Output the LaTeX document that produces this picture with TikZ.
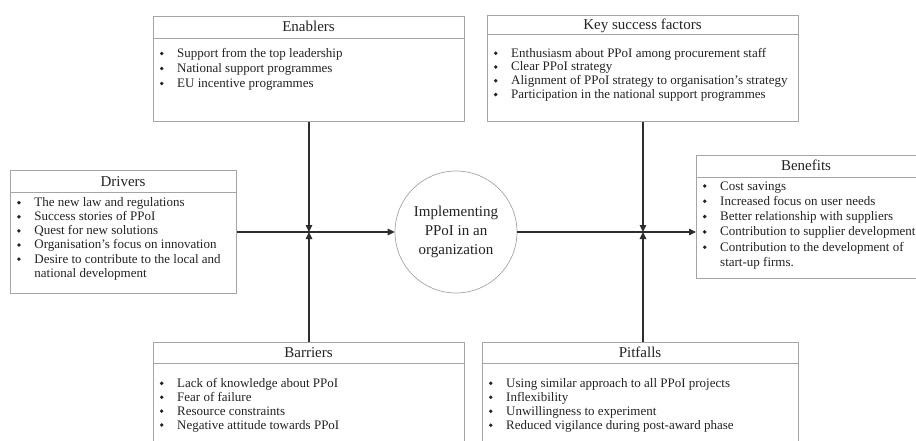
\documentclass[tikz,border=0pt]{standalone}
\usepackage{fontspec}
\setmainfont{Liberation Serif}
\usetikzlibrary{arrows.meta}
\definecolor{boxgray}{RGB}{165,165,165}
\definecolor{linec}{RGB}{45,45,45}
\definecolor{textc}{RGB}{35,35,35}
\newcommand{\bul}{\raisebox{2.1pt}{\tikz\fill[textc] (0pt,0pt) circle[radius=1.9pt];}}
\newcommand{\blist}[2]{\fontsize{13}{#1}\selectfont\begin{tabular}[t]{@{}l@{\hspace{13.6pt}}l@{}}#2\end{tabular}}
\tikzset{
  box/.style={draw=boxgray, line width=0.9pt, rectangle, inner sep=0pt, anchor=north west},
  boxline/.style={draw=boxgray, line width=0.9pt},
  head/.style={anchor=base, inner sep=0pt, text=textc, font=\fontsize{15}{17}\selectfont},
  blst/.style={anchor=base west, inner sep=0pt, text=textc},
  circ/.style={circle, draw=boxgray, line width=0.7pt, minimum size=122pt, inner sep=0pt, align=center, text=textc, font=\fontsize{15}{18.7}\selectfont},
  conn/.style={draw=linec, line width=1.2pt, -{Triangle[length=7pt,width=6.5pt]}}
}
\begin{document}
\begin{tikzpicture}[x=1pt,y=-1pt]
\useasboundingbox[fill=white] (0,0) rectangle (916,441);
% Enablers
\node[box, minimum width=311pt, minimum height=105pt] (en) at (153,16) {};
\draw[boxline] ([yshift=-22pt]en.north west) -- ([yshift=-22pt]en.north east);
\node[head] (enh) at (308.5,32) {Enablers};
\node[blst] (enl) at (159.6,57.5) {\blist{15}{\bul & Support from the top leadership\\ \bul & National support programmes\\ \bul & EU incentive programmes}};
% Key success factors
\node[box, minimum width=311pt, minimum height=106pt] (ks) at (487,15) {};
\draw[boxline] ([yshift=-19pt]ks.north west) -- ([yshift=-19pt]ks.north east);
\node[head] (ksh) at (642.5,29.7) {Key success factors};
\node[blst] (ksl) at (493.6,57.2) {\blist{13.8}{\bul & Enthusiasm about PPoI among procurement staff\\ \bul & Clear PPoI strategy\\ \bul & Alignment of PPoI strategy to organisation's strategy\\ \bul & Participation in the national support programmes}};
% Drivers
\node[box, minimum width=226pt, minimum height=123pt] (dr) at (10,170) {};
\draw[boxline] ([yshift=-22pt]dr.north west) -- ([yshift=-22pt]dr.north east);
\node[head] (drh) at (123,186.7) {Drivers};
\node[blst] (drl) at (16.8,206.7) {\blist{14.1}{\bul & The new law and regulations\\ \bul & Success stories of PPoI\\ \bul & Quest for new solutions\\ \bul & Organisation's focus on innovation\\ \bul & Desire to contribute to the local and\\ & national development}};
% Benefits
\node[box, minimum width=240pt, minimum height=123pt] (be) at (696,155) {};
\draw[boxline] ([yshift=-22pt]be.north west) -- ([yshift=-22pt]be.north east);
\node[head] (beh) at (806,171) {Benefits};
\node[blst] (bel) at (702.6,190) {\blist{15.3}{\bul & Cost savings\\ \bul & Increased focus on user needs\\ \bul & Better relationship with suppliers\\ \bul & Contribution to supplier development\\ \bul & Contribution to the development of\\ & start-up firms.}};
% Barriers
\node[box, minimum width=311pt, minimum height=115pt] (ba) at (153,342) {};
\draw[boxline] ([yshift=-21pt]ba.north west) -- ([yshift=-21pt]ba.north east);
\node[head] (bah) at (308.5,357) {Barriers};
\node[blst] (bal) at (159.6,387.3) {\blist{13.9}{\bul & Lack of knowledge about PPoI\\ \bul & Fear of failure\\ \bul & Resource constraints\\ \bul & Negative attitude towards PPoI}};
% Pitfalls
\node[box, minimum width=316pt, minimum height=115pt] (pf) at (482,342) {};
\draw[boxline] ([yshift=-21pt]pf.north west) -- ([yshift=-21pt]pf.north east);
\node[head] (pfh) at (640,357) {Pitfalls};
\node[blst] (pfl) at (488.6,387.3) {\blist{14}{\bul & Using similar approach to all PPoI projects\\ \bul & Inflexibility\\ \bul & Unwillingness to experiment\\ \bul & Reduced vigilance during post-award phase}};
% Centre
\node[circ] (c) at (456,232) {Implementing\\PPoI in an\\organization};
% Connectors
\coordinate (j1) at (en.south |- c.west);
\coordinate (j2) at (ks.south |- c.east);
\draw[conn] (dr.east |- c.west) -- (c.west);
\draw[conn] (en.south) -- (j1);
\draw[conn] (ba.north) -- (j1);
\draw[conn] (c.east) -- (be.west |- c.east);
\draw[conn] (ks.south) -- (j2);
\draw[conn] (j2 |- pf.north) -- (j2);
\end{tikzpicture}
\end{document}
